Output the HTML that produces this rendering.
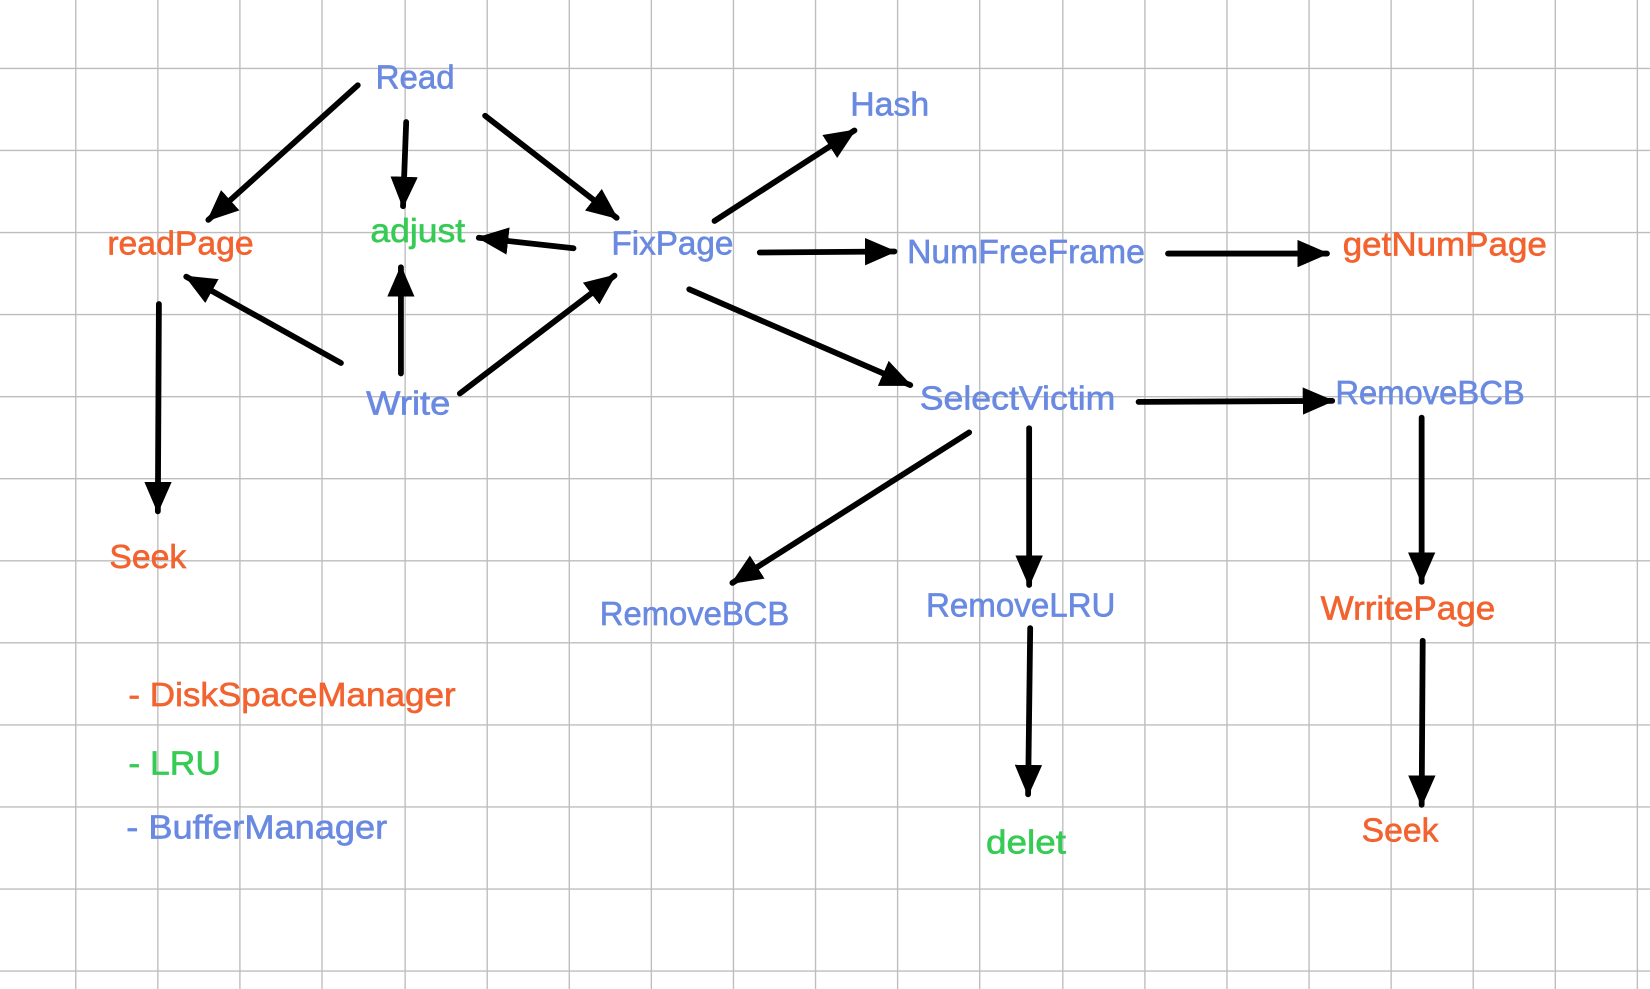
<!DOCTYPE html>
<html><head><meta charset="utf-8"><style>html,body{margin:0;padding:0;background:#fff;overflow:hidden}svg{display:block}</style></head>
<body>
<svg width="1650" height="989" viewBox="0 0 1568 940" preserveAspectRatio="none" xmlns="http://www.w3.org/2000/svg">
<defs>
<marker id="h" viewBox="0 0 30 26" refX="28" refY="13" markerWidth="30" markerHeight="26" orient="auto" markerUnits="userSpaceOnUse"><path d="M0,0 L30,13 L0,26 Z" fill="#000"/></marker></defs>
<rect width="1568" height="940" fill="#fff"/>
<g stroke="#bdbdbd" stroke-width="1.3">
<line x1="72" y1="0" x2="72" y2="940"/><line x1="150" y1="0" x2="150" y2="940"/><line x1="228" y1="0" x2="228" y2="940"/><line x1="306" y1="0" x2="306" y2="940"/><line x1="385" y1="0" x2="385" y2="940"/><line x1="463" y1="0" x2="463" y2="940"/><line x1="541" y1="0" x2="541" y2="940"/><line x1="619" y1="0" x2="619" y2="940"/><line x1="697" y1="0" x2="697" y2="940"/><line x1="775" y1="0" x2="775" y2="940"/><line x1="853" y1="0" x2="853" y2="940"/><line x1="931" y1="0" x2="931" y2="940"/><line x1="1010" y1="0" x2="1010" y2="940"/><line x1="1088" y1="0" x2="1088" y2="940"/><line x1="1166" y1="0" x2="1166" y2="940"/><line x1="1244" y1="0" x2="1244" y2="940"/><line x1="1322" y1="0" x2="1322" y2="940"/><line x1="1400" y1="0" x2="1400" y2="940"/><line x1="1478" y1="0" x2="1478" y2="940"/><line x1="1556" y1="0" x2="1556" y2="940"/>
<line x1="0" y1="65" x2="1568" y2="65"/><line x1="0" y1="143" x2="1568" y2="143"/><line x1="0" y1="221" x2="1568" y2="221"/><line x1="0" y1="299" x2="1568" y2="299"/><line x1="0" y1="377" x2="1568" y2="377"/><line x1="0" y1="455" x2="1568" y2="455"/><line x1="0" y1="533" x2="1568" y2="533"/><line x1="0" y1="611" x2="1568" y2="611"/><line x1="0" y1="689" x2="1568" y2="689"/><line x1="0" y1="767" x2="1568" y2="767"/><line x1="0" y1="845" x2="1568" y2="845"/><line x1="0" y1="923" x2="1568" y2="923"/>
</g>
<g stroke="#000" stroke-width="5.5" stroke-linecap="round" marker-end="url(#h)">
<line x1="340" y1="81" x2="198" y2="209"/>
<line x1="386" y1="116" x2="383" y2="196"/>
<line x1="461" y1="110" x2="586" y2="207"/>
<line x1="545" y1="236" x2="455" y2="226"/>
<line x1="324" y1="345" x2="177" y2="263"/>
<line x1="381" y1="355" x2="381" y2="254"/>
<line x1="437" y1="374" x2="584" y2="262"/>
<line x1="151" y1="289" x2="150" y2="486"/>
<line x1="679" y1="210" x2="812" y2="124"/>
<line x1="722" y1="240" x2="850" y2="239"/>
<line x1="1110" y1="241" x2="1261" y2="241"/>
<line x1="655" y1="275" x2="865" y2="366"/>
<line x1="1082" y1="382" x2="1266" y2="381"/>
<line x1="921" y1="411" x2="696" y2="554"/>
<line x1="978" y1="407" x2="978" y2="556"/>
<line x1="1351" y1="397" x2="1351" y2="553"/>
<line x1="979" y1="597" x2="977" y2="755"/>
<line x1="1352" y1="609" x2="1351" y2="765"/>
</g>
<g font-family="Liberation Sans, sans-serif" font-size="32" stroke-width="0.6">
<text x="357" y="84" fill="#6a8ae2" stroke="#6a8ae2" textLength="75" lengthAdjust="spacingAndGlyphs">Read</text>
<text x="102" y="242" fill="#f2632f" stroke="#f2632f" textLength="139" lengthAdjust="spacingAndGlyphs">readPage</text>
<text x="352" y="230" fill="#36cb55" stroke="#36cb55" textLength="90" lengthAdjust="spacingAndGlyphs">adjust</text>
<text x="581" y="242" fill="#6a8ae2" stroke="#6a8ae2" textLength="116" lengthAdjust="spacingAndGlyphs">FixPage</text>
<text x="808" y="110" fill="#6a8ae2" stroke="#6a8ae2" textLength="75" lengthAdjust="spacingAndGlyphs">Hash</text>
<text x="862" y="250" fill="#6a8ae2" stroke="#6a8ae2" textLength="226" lengthAdjust="spacingAndGlyphs">NumFreeFrame</text>
<text x="1276" y="243" fill="#f2632f" stroke="#f2632f" textLength="194" lengthAdjust="spacingAndGlyphs">getNumPage</text>
<text x="348" y="394" fill="#6a8ae2" stroke="#6a8ae2" textLength="80" lengthAdjust="spacingAndGlyphs">Write</text>
<text x="874" y="389" fill="#6a8ae2" stroke="#6a8ae2" textLength="186" lengthAdjust="spacingAndGlyphs">SelectVictim</text>
<text x="1269" y="384" fill="#6a8ae2" stroke="#6a8ae2" textLength="180" lengthAdjust="spacingAndGlyphs">RemoveBCB</text>
<text x="104" y="540" fill="#f2632f" stroke="#f2632f" textLength="73" lengthAdjust="spacingAndGlyphs">Seek</text>
<text x="570" y="594" fill="#6a8ae2" stroke="#6a8ae2" textLength="180" lengthAdjust="spacingAndGlyphs">RemoveBCB</text>
<text x="880" y="586" fill="#6a8ae2" stroke="#6a8ae2" textLength="180" lengthAdjust="spacingAndGlyphs">RemoveLRU</text>
<text x="1255" y="589" fill="#f2632f" stroke="#f2632f" textLength="166" lengthAdjust="spacingAndGlyphs">WrritePage</text>
<text x="937" y="811" fill="#36cb55" stroke="#36cb55" textLength="76" lengthAdjust="spacingAndGlyphs">delet</text>
<text x="1294" y="800" fill="#f2632f" stroke="#f2632f" textLength="73" lengthAdjust="spacingAndGlyphs">Seek</text>
<text x="122" y="671" fill="#f2632f" stroke="#f2632f" textLength="311" lengthAdjust="spacingAndGlyphs">- DiskSpaceManager</text>
<text x="122" y="736" fill="#36cb55" stroke="#36cb55" textLength="88" lengthAdjust="spacingAndGlyphs">- LRU</text>
<text x="120" y="797" fill="#6a8ae2" stroke="#6a8ae2" textLength="248" lengthAdjust="spacingAndGlyphs">- BufferManager</text>
</g>
</svg>
</body></html>
